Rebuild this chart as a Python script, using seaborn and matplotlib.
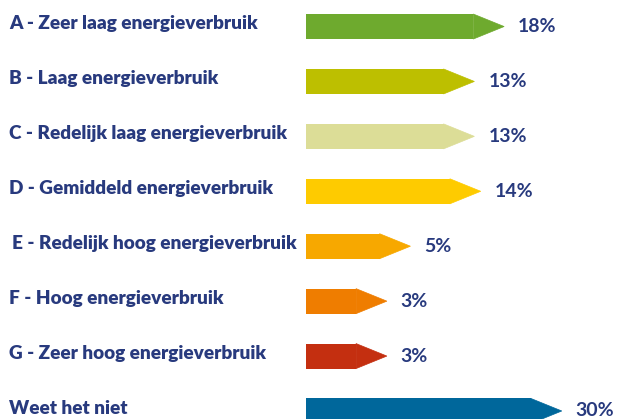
import numpy as np
import pandas as pd
import matplotlib
matplotlib.use('Agg')
import matplotlib.pyplot as plt
from matplotlib.patches import Polygon
from matplotlib.transforms import blended_transform_factory
import seaborn as sns

# Data
categories = [
    'A - Zeer laag energieverbruik',
    'B - Laag energieverbruik',
    'C - Redelijk laag energieverbruik',
    'D - Gemiddeld energieverbruik',
    'E - Redelijk hoog energieverbruik',
    'F - Hoog energieverbruik',
    'G - Zeer hoog energieverbruik',
    'Weet het niet',
]
values = [18, 13, 13, 14, 5, 3, 3, 30]
value_labels = ['18%', '13%', '13%', '14%', '5%', '3%', '3%', '30%']
colors = ['#6eaa2e', '#bdbf00', '#dcdd97', '#fecb00',
          '#f7a800', '#ef7d00', '#c42f10', '#00679b']

text_color = '#283a7e'
tip_len = 0.66   # arrow tip length, in sqrt-units of the x scale
bar_h = 0.455

sns.set_theme(style='white')
plt.rcParams['font.family'] = ['Lato', 'DejaVu Sans']

fig = plt.figure(figsize=(6.18, 4.19), dpi=100)
ax = fig.add_axes([306 / 618, 0, 312 / 618, 1])

# bar lengths in the infographic follow a square-root scale
ax.set_xscale('function', functions=(np.sqrt, np.square))

df = pd.DataFrame({'category': categories, 'value': values})
df['rect'] = (np.sqrt(df['value']) - tip_len) ** 2

sns.barplot(data=df, x='rect', y='category', hue='category', palette=colors,
            orient='h', width=bar_h, legend=False, linewidth=0, ax=ax,
            saturation=1)

# arrow tips
for i, (v, c) in enumerate(zip(values, colors)):
    xs = (np.sqrt(v) - tip_len) ** 2
    tri = Polygon([(xs, i - bar_h / 2), (v, i), (xs, i + bar_h / 2)],
                  closed=True, facecolor=c, edgecolor=c, linewidth=0.5)
    ax.add_patch(tri)

ax.set_xlim(0, (312 / 46.7) ** 2)
ax.set_ylim(7.146, -0.483)
ax.set_xlabel('')
ax.set_ylabel('')
ax.set_xticks([])
ax.set_yticks([])
sns.despine(ax=ax, left=True, bottom=True)

# category labels on the left
trans = blended_transform_factory(fig.transFigure, ax.transData)
for i, cat in enumerate(categories):
    x0 = 12 / 618 if cat.startswith('E') else 9 / 618
    ax.text(x0, i - 0.05, cat, transform=trans, ha='left', va='center',
            fontsize=13.7, fontweight='heavy', color=text_color, clip_on=False)

# percentage labels
for i, (v, lab) in enumerate(zip(values, value_labels)):
    ax.annotate(lab, xy=(v, i), xytext=(10, 0), textcoords='offset points',
                ha='left', va='center', fontsize=14, fontweight='bold',
                color=text_color, annotation_clip=False)

fig.savefig('out.png', dpi=100)
